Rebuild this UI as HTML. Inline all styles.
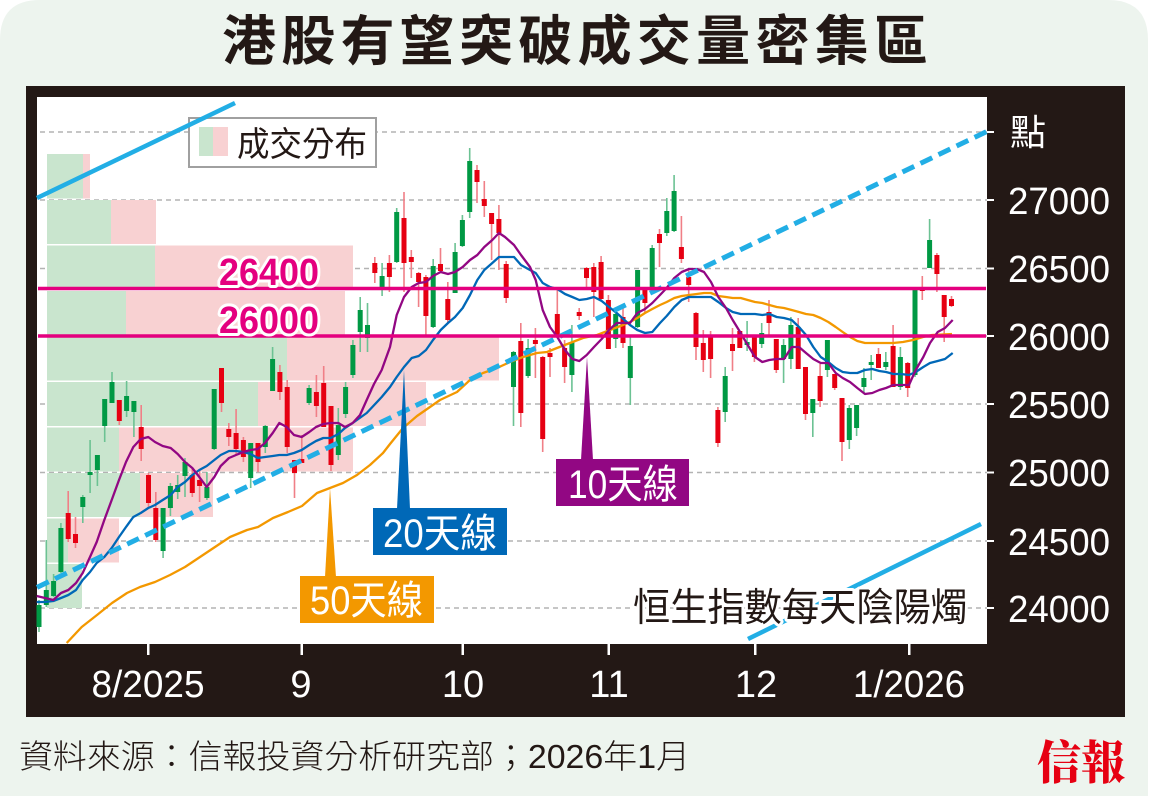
<!DOCTYPE html>
<html><head><meta charset="utf-8"><style>
html,body{margin:0;padding:0;background:#fff;}
svg{display:block;}
.cjk{font-family:"Liberation Sans","Noto Sans CJK TC",sans-serif;}
.lat{font-family:"Liberation Sans","Noto Sans CJK TC",sans-serif;}
</style></head><body>
<svg width="1151" height="796" viewBox="0 0 1151 796" xmlns="http://www.w3.org/2000/svg">
<rect x="0" y="0" width="1151" height="796" fill="#ffffff"/>
<path d="M0 40 Q0 0 40 0 H1108 Q1148 0 1148 40 V796 H0 Z" fill="#edf4ee"/>
<text x="222" y="60" class="cjk" font-size="54" font-weight="700" fill="#231815" textLength="706" lengthAdjust="spacing">港股有望突破成交量密集區</text>
<rect x="26" y="86" width="1099" height="631" fill="#231815"/>
<rect x="37" y="97" width="950" height="547" fill="#ffffff"/>
<g stroke="#b3b3b3" stroke-width="1.5" stroke-dasharray="5 4">
<path d="M40 132H987M40 200H987M40 268.5H987M40 336H987M40 404H987M40 472.5H987M40 541H987M40 608H987"/>
</g>
<g fill="#ffffff">
<rect x="987" y="131" width="7" height="2"/><rect x="987" y="199" width="7" height="2"/><rect x="987" y="267.5" width="7" height="2"/><rect x="987" y="335" width="7" height="2"/><rect x="987" y="403" width="7" height="2"/><rect x="987" y="471.5" width="7" height="2"/><rect x="987" y="540" width="7" height="2"/><rect x="987" y="607" width="7" height="2"/>
<rect x="147" y="644" width="2.5" height="11"/><rect x="300.5" y="644" width="2.5" height="11"/><rect x="461.5" y="644" width="2.5" height="11"/><rect x="607.5" y="644" width="2.5" height="11"/><rect x="754" y="644" width="2.5" height="11"/><rect x="908" y="644" width="2.5" height="11"/>
</g>
<g>
<rect x="47" y="154" width="36" height="44.5" fill="#c9e5ce"/><rect x="83" y="154" width="7" height="44.5" fill="#f8d1d2"/>
<rect x="47" y="200" width="64" height="44" fill="#c9e5ce"/><rect x="111" y="200" width="45" height="44" fill="#f8d1d2"/>
<rect x="47" y="245.5" width="108" height="44" fill="#c9e5ce"/><rect x="155" y="245.5" width="198" height="44" fill="#f8d1d2"/>
<rect x="47" y="291" width="79" height="44" fill="#c9e5ce"/><rect x="126" y="291" width="219" height="44" fill="#f8d1d2"/>
<rect x="47" y="336.5" width="240" height="44" fill="#c9e5ce"/><rect x="287" y="336.5" width="212" height="44" fill="#f8d1d2"/>
<rect x="47" y="382" width="211" height="44" fill="#c9e5ce"/><rect x="258" y="382" width="168" height="44" fill="#f8d1d2"/>
<rect x="47" y="427.5" width="72" height="44" fill="#c9e5ce"/><rect x="119" y="427.5" width="234" height="44" fill="#f8d1d2"/>
<rect x="47" y="473" width="93" height="44" fill="#c9e5ce"/><rect x="140" y="473" width="73" height="44" fill="#f8d1d2"/>
<rect x="47" y="518.5" width="21" height="44" fill="#c9e5ce"/><rect x="68" y="518.5" width="51" height="44" fill="#f8d1d2"/>
<rect x="47" y="564" width="35" height="44" fill="#c9e5ce"/>
</g>
<rect x="189" y="118" width="187" height="49" fill="#ffffff" stroke="#a0a0a0" stroke-width="2"/>
<rect x="199" y="127" width="14" height="29" fill="#c9e5ce"/><rect x="213" y="127" width="15" height="29" fill="#f8d1d2"/>
<text x="237" y="156" class="cjk" font-size="34" fill="#231815" textLength="130" lengthAdjust="spacingAndGlyphs">成交分布</text>
<path d="M37 198L235 103" stroke="#22aee5" stroke-width="4.5" fill="none"/>
<path d="M748 639L981 524" stroke="#22aee5" stroke-width="4.5" fill="none"/>
<!-- wicks -->
<path fill="none" stroke="#6cc293" stroke-width="1.6" d="M39 600V632M46.3 540V607M53.6 574V597M60.9 523V573M82.8 495V523M90.1 440V493M97.4 455V486M104.7 399V442M112 372V403M126.6 381V417M133.9 401V437M163.1 508V558M170.4 483V516M177.7 475V499M185 458V497M206.9 472V500M214.2 389V450M250.7 443V488M265.3 425V453M272.6 347V391M309.1 385V405M338.3 408V460M345.6 382V418M352.9 340V378M360.2 297V352M367.5 303V352M382.1 263V296M396.7 208V263M433.2 259V328M455.1 243V293M462.4 215V247M469.7 148V218M513.5 351V426M528.1 339V378M571.9 325V392M615.7 308V348M630.3 337V405M637.6 270V328M652.2 245V290M666.8 198V236M674.1 175V232M725.2 367V422M747.1 321V351M761.7 323V348M783.6 339V383M790.9 317V369M812.8 399V437M827.4 340V377M849.3 405V449M856.6 405V436M863.9 368V393M871.2 355V380M885.8 352V370M900.4 347V390M915 290V377M929.6 219V268"/>
<path fill="none" stroke="#f07f87" stroke-width="1.6" d="M68.2 491V542M75.5 517V548M119.3 400V425M141.2 405V461M148.5 473V508M155.8 492V542M192.3 468V497M199.6 470V502M221.5 368V412M228.8 423V446M236.1 409V455M243.4 437V462M258 443V472M279.9 365V400M287.2 380V453M294.5 460V498M301.8 435V463M316.4 375V417M323.7 366V427M331 406V471M374.8 257V283M389.4 255V292M404 192V292M411.3 250V278M418.6 272V307M425.9 275V337M440.5 248V273M447.8 282V323M477 165V203M484.3 181V217M491.6 213V260M498.9 205V270M506.2 261V303M520.8 323V427M535.4 328V378M542.7 356V452M550 348V377M557.3 287V337M564.6 340V383M579.2 308V320M586.5 267V290M593.8 263V317M601.1 256V300M608.4 295V349M623 307V348M644.9 287V313M659.5 229V267M681.4 216V263M688.7 268V302M696 312V360M703.3 330V372M710.6 331V378M717.9 407V447M732.5 328V371M739.8 331V348M754.4 337V362M769 300V335M776.3 339V373M798.2 318V369M805.5 367V420M820.1 364V407M834.7 374V390M842 398V461M878.5 348V368M893.1 325V387M907.7 362V397M922.3 276V300M936.9 253V292M944.2 295V342M951.5 296V307"/>
<!-- bodies -->
<path fill="none" stroke="#009944" stroke-width="5" d="M39 605V627M46.3 590V605M53.6 581V596M60.9 528V572M82.8 497V507M90.1 472V475M97.4 455V470M104.7 399V426M112 382V403M126.6 396V411M133.9 401V412M163.1 508V551M170.4 486V508M177.7 485V492M185 462V476M206.9 487V498M214.2 389V449M250.7 443V478M265.3 426V447M272.6 359V391M309.1 388V403M338.3 425V455M345.6 387V414M352.9 345V375M360.2 310V332M367.5 325V338M382.1 276V287M396.7 212V262M433.2 266V327M455.1 252V293M462.4 220V246M469.7 161V212M513.5 352V387M528.1 348V376M571.9 342V375M615.7 314V339M630.3 346V378M637.6 270V327M652.2 248V288M666.8 211V233M674.1 191V231M725.2 376V412M747.1 342V345M761.7 333V344M783.6 345V359M790.9 325V359M812.8 399V413M827.4 340V370M849.3 408V440M856.6 405V428M863.9 378V387M871.2 362V365M885.8 362V367M900.4 357V387M915 290V375M929.6 240V268"/>
<path fill="none" stroke="#e60012" stroke-width="5" d="M68.2 513V539M75.5 534V543M119.3 400V421M141.2 427V449M148.5 475V503M155.8 508V540M192.3 475V493M199.6 480V486M221.5 368V403M228.8 429V437M236.1 433V449M243.4 440V457M258 443V462M279.9 372V392M287.2 387V447M294.5 460V473M301.8 459V463M316.4 392V406M323.7 383V427M331 406V465M374.8 263V273M389.4 263V277M404 218V263M411.3 257V262M418.6 273V282M425.9 277V316M440.5 264V271M447.8 299V320M477 170V182M484.3 199V206M491.6 213V224M498.9 219V233M506.2 264V298M520.8 341V413M535.4 340V344M542.7 357V439M550 353V357M557.3 314V337M564.6 348V367M579.2 312V316M586.5 268V278M593.8 267V292M601.1 262V299M608.4 300V349M623 317V343M644.9 290V303M659.5 234V243M681.4 247V259M688.7 277V285M696 313V347M703.3 343V360M710.6 337V359M717.9 410V443M732.5 344V351M739.8 331V348M754.4 337V357M769 312V323M776.3 339V370M798.2 327V369M805.5 367V414M820.1 376V401M834.7 374V388M842 398V442M878.5 354V368M893.1 346V387M907.7 363V388M922.3 288V291M936.9 255V274M944.2 295V317M951.5 299V306"/>
<!-- MA lines -->
<path fill="none" stroke="#f39800" stroke-width="2.3" stroke-linejoin="round" d="M66.7 643L81.7 627L97 615L112 603L127 593L140 587L155 582L170 575L185 567L200 557L215 547L230 537L247 530L258 527L273 518L288 512L302 506L317 493L330 488L343 483L357 475L370 465L383 453L390 444L403 428L417 416L430 407L440 400L457 392L470 380L483 373L497 368L510 362L523 357L537 353L547 352L557 348L570 343L583 338L597 335L610 330L623 325L630 322L637.3 318L645 313L652.3 309L660 305L666.7 302L674.3 298L681.7 296L689 295L696.7 294L704 293L711 293L718.3 296L726 297L732.7 298L740.7 298L747.7 300L755 302L762.3 303L769.3 305L776.7 307L784 308L791.7 310L799 312L806 314L813.3 315L820.7 318L828.3 322L835.7 327L842.7 332L850 337L857.3 341L865 343L872.3 343L879.3 343L893 343L903 342L913 340L923 337L932 335L952 334"/>
<path fill="none" stroke="#0068b7" stroke-width="2.3" stroke-linejoin="round" d="M36.7 602L45 602L53.3 601L61 598L68.3 595L76 590L82.7 580L90 572L96.7 563L104.3 557L111.7 548L119 537L126 527L133.3 517L140.7 513L148.3 508L155 505L162.7 500L170.7 495L177.7 487L185 482L192.3 475L199.3 470L206.7 466L214.3 460L220.7 455L229 451L236 451L243.3 452L250.7 454L257.7 458L265 457L272.7 456L279.3 455L286.7 455L294 453L301.7 450L309.3 445L316 441L323.3 438L330.7 438L338.3 434L345 428L352.7 423L366.7 413L381.7 397L390 387L396.7 377L404 367L411.7 358L418.7 356L426 350L433 340L440.7 330L448 323L455 317L462.7 308L470 295L477.3 280L484.3 270L492.3 263L499 257L505 257L514 257L521 265L530 270L535.7 273L542.7 283L550 287L557.3 289L565 294L572.3 297L579.3 300L586.7 299L594 297L601.7 301L609 307L616.7 313L623.3 319L630 325L637.3 330L645 333L652.3 332L660 323L666.7 316L674.3 307L681.7 300L689 297L696.7 297L704 297L711 297L718.3 302L726 308L732.7 312L740.7 314L747.7 314L755 314L762.3 315L769.3 314L776.7 317L784 318L791.7 320L799 327L806 335L813.3 347L820.7 357L828.3 362L835.7 368L842.7 372L850 373L857.3 373L865 370L872.3 369L879.3 371L886 372L893.3 374L901 374L909 375L915.7 372L923.3 367L930 363L937.7 361L945 359L952.7 353"/>
<path fill="none" stroke="#920783" stroke-width="2.3" stroke-linejoin="round" d="M36.7 596L45 598L53.3 600L61 593L68.3 590L76 583L82.7 573L90 557L96.7 542L104.3 520L111.7 500L119 480L126 462L133.3 447L140.7 439L148.3 437L155 442L162.7 446L170.7 448L177.7 454L185 462L192.3 468L199.3 477L206.7 487L214.3 477L220.7 466L229 458L236 455L243.3 452L250.7 450L257.7 449L265 443L272.7 433L279.3 423L286.7 427L294 435L301.7 437L309.3 432L316 427L323.3 424L330.7 423L338.3 423L345 427L352.7 423L360 415L366.7 400L374 384L381.7 370L390 347L396.7 315L404 297L411.7 287L418.7 283L426 282L433 276L440.7 272L448 274L455 272L462.7 267L470 260L477.3 255L484.3 247L492.3 240L499 233L505 237L514 245L521 255L530 267L535.7 280L542.7 310L550 327L557.3 337L565 350L572.3 359L579.3 361L586.7 355L594 347L601.7 339L609 330L616.7 323L623.3 323L630 323L637.3 313L645 309L652.3 303L660 295L666.7 288L674.3 278L681.7 272L689 269L696.7 269L704 272L711 282L718.3 297L726 308L732.7 320L740.7 333L747.7 345L755 357L762.3 362L769.3 360L776.7 359L784 359L791.7 347L799 347L806 353L813.3 359L820.7 363L828.3 363L835.7 373L842.7 378L850 382L857.3 388L865 394L872.3 393L879.3 390L886 388L893.3 385L901 385L909 385L915.7 370L923.3 357L930 343L937.7 332L945 328L952.7 320"/>
<path d="M37 587.4L987 131.4" stroke="#22aee5" stroke-width="5" stroke-dasharray="13 7" fill="none"/>
<path d="M38 288.5H986M38 336H986" stroke="#e4007f" stroke-width="3.5" fill="none"/>
<g class="lat" font-size="38" font-weight="700" fill="#e4007f" stroke="#ffffff" stroke-width="6" paint-order="stroke" stroke-linejoin="round">
<text x="219" y="285" textLength="100" lengthAdjust="spacingAndGlyphs">26400</text>
<text x="219" y="333" textLength="100" lengthAdjust="spacingAndGlyphs">26000</text>
</g>
<text x="633" y="621" class="cjk" font-size="39" fill="#231815" stroke="#ffffff" stroke-width="6" paint-order="stroke" stroke-linejoin="round" textLength="335" lengthAdjust="spacingAndGlyphs">恒生指數每天陰陽燭</text>
<!-- annotations -->
<polygon points="325,577 330,488 336,577" fill="#f39800"/>
<rect x="300" y="576" width="134" height="47" fill="#f39800"/>
<text x="310" y="614" class="cjk" font-size="40" fill="#ffffff" textLength="113" lengthAdjust="spacingAndGlyphs">50天線</text>
<polygon points="397,509 404,370 410,509" fill="#0068b7"/>
<rect x="373" y="508" width="134" height="47" fill="#0068b7"/>
<text x="383" y="547" class="cjk" font-size="40" fill="#ffffff" textLength="114" lengthAdjust="spacingAndGlyphs">20天線</text>
<polygon points="581,460 587,357 593,460" fill="#920783"/>
<rect x="556" y="459" width="133" height="47" fill="#920783"/>
<text x="568" y="498" class="cjk" font-size="40" fill="#ffffff" textLength="110" lengthAdjust="spacingAndGlyphs">10天線</text>
<!-- axis labels -->
<g class="lat" font-size="38" fill="#ffffff">
<text x="1008" y="214" textLength="102" lengthAdjust="spacingAndGlyphs">27000</text>
<text x="1008" y="282" textLength="102" lengthAdjust="spacingAndGlyphs">26500</text>
<text x="1008" y="350" textLength="102" lengthAdjust="spacingAndGlyphs">26000</text>
<text x="1008" y="418" textLength="102" lengthAdjust="spacingAndGlyphs">25500</text>
<text x="1008" y="486" textLength="102" lengthAdjust="spacingAndGlyphs">25000</text>
<text x="1008" y="555" textLength="102" lengthAdjust="spacingAndGlyphs">24500</text>
<text x="1008" y="622" textLength="102" lengthAdjust="spacingAndGlyphs">24000</text>
<text x="148" y="697" text-anchor="middle" textLength="113" lengthAdjust="spacingAndGlyphs">8/2025</text>
<text x="301" y="697" text-anchor="middle">9</text>
<text x="463" y="697" text-anchor="middle">10</text>
<text x="609" y="697" text-anchor="middle">11</text>
<text x="756" y="697" text-anchor="middle">12</text>
<text x="909" y="697" text-anchor="middle" textLength="112" lengthAdjust="spacingAndGlyphs">1/2026</text>
</g>
<text x="1010" y="145" class="cjk" font-size="36" fill="#ffffff">點</text>
<text x="19" y="768" class="cjk" font-size="33" font-weight="300" fill="#231815" textLength="671" lengthAdjust="spacingAndGlyphs">資料來源：信報投資分析研究部；2026年1月</text>
<text x="1037" y="779" font-family="'Noto Serif CJK SC','Noto Serif CJK TC',serif" font-size="46" font-weight="900" fill="#e60012" textLength="88" lengthAdjust="spacingAndGlyphs">信報</text>
</svg>
</body></html>
